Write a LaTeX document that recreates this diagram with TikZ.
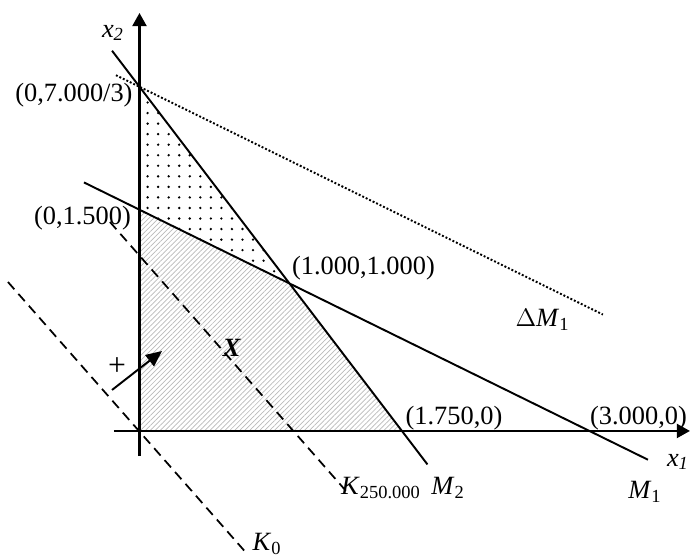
\documentclass[tikz,border=0pt]{standalone}
\usepackage{fontspec}
\setmainfont{Liberation Serif}
\usepackage{tikz}
\usetikzlibrary{arrows.meta,patterns.meta}

\begin{document}
\begin{tikzpicture}[
  x=3cm, y=2.95cm,
  >={Triangle[length=7.5pt,width=8pt]},
  lbl/.style={font=\fontsize{15}{18}\selectfont, inner sep=1pt},
  dashline/.style={dash pattern=on 5.5pt off 3.5pt, line width=1pt},
]
\useasboundingbox (-0.93,-0.847) rectangle (3.677,2.922);

% Corner points
\coordinate (O) at (0,0);
\coordinate (A) at (0,7/3);
\coordinate (B) at (0,1.5);
\coordinate (C) at (1,1);
\coordinate (D) at (1.75,0);
\coordinate (E) at (3,0);

% Feasible region (hatched) and dotted part
\fill[pattern={Lines[angle=45,distance=2pt,line width=0.4pt]}, pattern color=gray!55]
  (O) -- (B) -- (C) -- (D) -- cycle;
\fill[pattern={Dots[distance=6pt,radius=0.75pt]}, pattern color=black]
  (B) -- (A) -- (C) -- cycle;

% Constraint lines
\coordinate (m1a) at (-0.37,1.685);
\coordinate (m1b) at (3.39,-0.195);
\coordinate (m2a) at (-0.183,2.578);
\coordinate (m2b) at (1.92,-0.227);
\coordinate (dma) at (-0.157,2.412);
\coordinate (dmb) at (3.09,0.789);
\draw[line width=1.1pt] (m1a) -- (m1b);
\draw[line width=1.1pt] (m2a) -- (m2b);
\draw[line width=1.1pt, dash pattern=on 1.1pt off 1.1pt] (dma) -- (dmb);

% Objective lines
\coordinate (k0a) at (-0.877,1.01);
\coordinate (k0b) at (0.723,-0.84);
\coordinate (k1a) at (-0.197,1.417);
\coordinate (k1b) at (1.383,-0.414);
\draw[dashline] (k0a) -- (k0b);
\draw[dashline] (k1a) -- (k1b);

% Gradient direction
\coordinate (g0) at (-0.183,0.278);
\coordinate (g1) at (0.15,0.542);
\draw[line width=1.1pt, -{Triangle[length=9pt,width=8pt]}] (g0) -- (g1);

% Axes
\coordinate (xa) at (-0.17,0);
\coordinate (xb) at (3.67,0);
\coordinate (ya) at (0,-0.17);
\coordinate (yb) at (0,2.834);
\draw[line width=1.3pt, ->] (xa) -- (xb);
\draw[line width=1.3pt, ->] (ya) -- (yb);

% Labels
\node[lbl] (lx2) at (-0.177,2.698) {\textit{x}\textsubscript{\textit{2}}};
\node[lbl] (lx1) at (3.59,-0.21) {\textit{x}\textsubscript{\textit{1}}};
\node[lbl] (lA) at (-0.437,2.278) {(0,7.000/3)};
\node[lbl] (lB) at (-0.38,1.444) {(0,1.500)};
\node[lbl] (lC) at (1.493,1.105) {(1.000,1.000)};
\node[lbl] (lD) at (2.097,0.088) {(1.750,0)};
\node[lbl] (lE) at (3.327,0.088) {(3.000,0)};
\node[lbl] (ldm) at (2.687,0.753) {$\Delta$\textit{M}\textsubscript{1}};
\node[lbl] (lX) at (0.617,0.563) {\textit{\textbf{X}}};
\node[lbl, font=\fontsize{18}{20}\selectfont] (lplus) at (-0.15,0.434) {+};
\node[lbl] (lm1) at (3.37,-0.414) {\textit{M}\textsubscript{1}};
\node[lbl] (lm2) at (2.057,-0.386) {\textit{M}\textsubscript{2}};
\node[lbl] (lk1) at (1.61,-0.386) {\textit{K}\textsubscript{250.000}};
\node[lbl] (lk0) at (0.85,-0.765) {\textit{K}\textsubscript{0}};
\end{tikzpicture}
\end{document}
